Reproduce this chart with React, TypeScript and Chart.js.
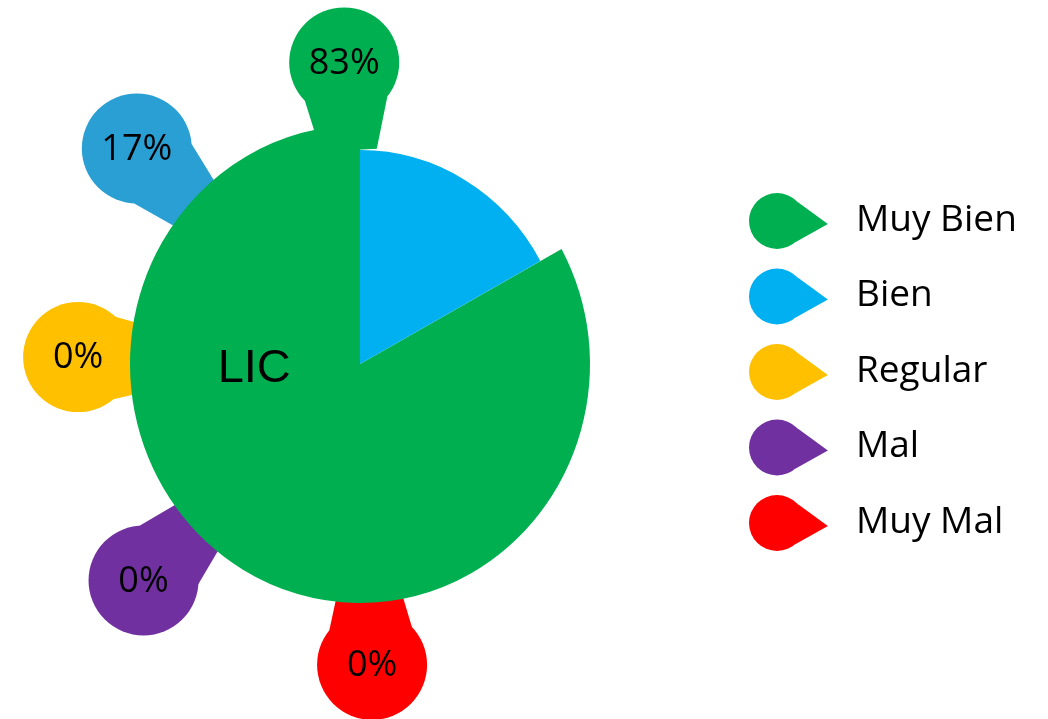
import React, { useEffect, useRef } from "react";
import { Chart, registerables } from "chart.js";

Chart.register(...registerables);

// ---- data ----
const categories = ["Muy Bien", "Bien", "Regular", "Mal", "Muy Mal"];
const values = [83, 17, 0, 0, 0];
const percentLabels = ["83%", "17%", "0%", "0%", "0%"];
const centerLabel = "LIC";

// ---- styles / layout ----
const sliceColors = ["#00B050", "#00B0F0", "#FFC000", "#7030A0", "#FF0000"];
const bubbleColors = ["#00B050", "#2A9FD3", "#FFC000", "#7030A0", "#FF0000"];
const sliceRadiusScale = [1, 0.895, 1, 1, 1];
const calloutAngles = [-3, -46, -88.6, -135, 177.7]; // degrees, clockwise from top
const calloutDistScale = [1.313, 1.349, 1.226, 1.331, 1.309];
const pieStretchY = 1.039;

const W = 1048;
const H = 719;

function drawDrop(
  ctx: CanvasRenderingContext2D,
  cx: number,
  cy: number,
  r: number,
  dir: number,
  tipDist: number,
  halfAngle: number,
  tipHalfWidth: number,
  color: string
) {
  ctx.save();
  ctx.fillStyle = color;
  ctx.beginPath();
  ctx.arc(cx, cy, r, 0, Math.PI * 2);
  ctx.fill();
  const ux = Math.cos(dir);
  const uy = Math.sin(dir);
  const px = -uy;
  const py = ux;
  ctx.beginPath();
  ctx.moveTo(cx + r * Math.cos(dir + halfAngle), cy + r * Math.sin(dir + halfAngle));
  ctx.lineTo(cx + ux * tipDist + px * tipHalfWidth, cy + uy * tipDist + py * tipHalfWidth);
  ctx.lineTo(cx + ux * tipDist - px * tipHalfWidth, cy + uy * tipDist - py * tipHalfWidth);
  ctx.lineTo(cx + r * Math.cos(dir - halfAngle), cy + r * Math.sin(dir - halfAngle));
  ctx.closePath();
  ctx.fill();
  ctx.restore();
}

function calloutPos(chart: any, i: number) {
  const arc0 = chart.getDatasetMeta(0).data[0];
  const a = (calloutAngles[i] * Math.PI) / 180;
  const d = arc0.outerRadius * calloutDistScale[i];
  return { x: arc0.x + d * Math.sin(a), y: arc0.y - d * Math.cos(a), cx: arc0.x, cy: arc0.y, R: arc0.outerRadius };
}

const infographicPlugin = {
  id: "infographic",
  afterDatasetsUpdate(chart: any) {
    const meta = chart.getDatasetMeta(0);
    meta.data.forEach((arc: any, i: number) => {
      arc.outerRadius = arc.outerRadius * sliceRadiusScale[i];
    });
  },
  beforeDatasetsDraw(chart: any) {
    const ctx: CanvasRenderingContext2D = chart.ctx;
    percentLabels.forEach((_, i) => {
      const p = calloutPos(chart, i);
      const dir = Math.atan2(p.cy - p.y, p.cx - p.x);
      drawDrop(ctx, p.x, p.y, 55, dir, 88, 0.85, 28, bubbleColors[i]);
    });
    // slightly taller pie (ellipse) like the reference
    const arc0 = chart.getDatasetMeta(0).data[0];
    ctx.save();
    ctx.translate(arc0.x, arc0.y);
    ctx.scale(1, pieStretchY);
    ctx.translate(-arc0.x, -arc0.y);
  },
  afterDatasetsDraw(chart: any) {
    const ctx: CanvasRenderingContext2D = chart.ctx;
    ctx.restore();
    ctx.save();
    ctx.fillStyle = "#000";
    ctx.textAlign = "center";
    ctx.textBaseline = "middle";
    ctx.font = '36px "Open Sans"';
    percentLabels.forEach((lab, i) => {
      const p = calloutPos(chart, i);
      ctx.fillText(lab, p.x, p.y + 1);
    });
    // center label
    const arc0 = chart.getDatasetMeta(0).data[0];
    ctx.font = '47px "Liberation Sans"';
    ctx.fillText(centerLabel, arc0.x - arc0.outerRadius * 0.46, arc0.y + arc0.outerRadius * 0.02);

    // legend
    const lx = 777;
    const ly0 = 221;
    const step = 75.5;
    categories.forEach((name, i) => {
      const y = ly0 + step * i;
      drawDrop(ctx, lx, y, 28, 0.06, 51, 0.8, 0, sliceColors[i]);
      ctx.fillStyle = "#000";
      ctx.textAlign = "left";
      ctx.textBaseline = "middle";
      ctx.font = '37px "Open Sans"';
      ctx.fillText(name, 856, y - 1);
    });
    ctx.restore();
  },
};

export default function App() {
  const ref = useRef<HTMLCanvasElement | null>(null);
  useEffect(() => {
    document.body.style.margin = "0";
    if (!ref.current) return;
    const chart = new Chart(ref.current, {
      type: "pie",
      data: {
        labels: categories,
        datasets: [
          {
            data: values,
            backgroundColor: sliceColors,
            borderWidth: 0,
          },
        ],
      },
      options: {
        responsive: false,
        animation: false,
        events: [],
        rotation: 61.2,
        layout: {
          padding: { left: 130, right: 458, top: 134, bottom: 125 },
        },
        plugins: {
          legend: { display: false },
          tooltip: { enabled: false },
          title: { display: false },
        },
      },
      plugins: [infographicPlugin],
    });
    return () => chart.destroy();
  }, []);
  return (
    <div style={{ width: W, height: H, background: "#fff" }}>
      <canvas ref={ref} width={W} height={H} style={{ width: W, height: H, display: "block" }} />
    </div>
  );
}
